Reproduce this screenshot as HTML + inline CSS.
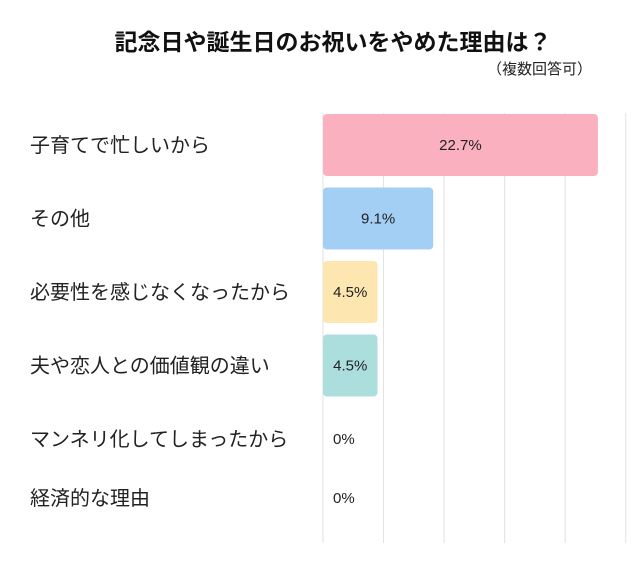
<!DOCTYPE html>
<html><head><meta charset="utf-8"><style>
body{margin:0;background:#fff;}
svg{display:block;font-family:"Liberation Sans","Noto Sans CJK JP",sans-serif;}
</style></head><body>
<svg id="c" width="640" height="581" viewBox="0 0 640 581">
<text x="333" y="50" text-anchor="middle" font-size="23" font-weight="bold" fill="#111">記念日や誕生日のお祝いをやめた理由は？</text>
<text x="592" y="74" text-anchor="end" font-size="15" fill="#222">（複数回答可）</text>
<g id="grid"></g><g id="bars"></g>
</svg>
<script>
const categories=["子育てで忙しいから","その他","必要性を感じなくなったから","夫や恋人との価値観の違い","マンネリ化してしまったから","経済的な理由"];
const values=[22.7,9.1,4.5,4.5,0,0];
const valueLabels=["22.7%","9.1%","4.5%","4.5%","0%","0%"];
const gridTicks=[0,5,10,15,20,25];
const colors=["#fbb0c0","#a3cff5","#fde6b0","#acdedd","#fff","#fff"];
const NS="http://www.w3.org/2000/svg";
const x0=323,pxPer=12.11;
const x=v=>x0+v*pxPer;
const rowCenters=[145,218.5,292,365.5,439,498];
const y=i=>rowCenters[i];
const grid=document.getElementById('grid'),bars=document.getElementById('bars');
gridTicks.forEach(t=>{
 const l=document.createElementNS(NS,'line');
 
 
 l.setAttribute('x1',x(t));l.setAttribute('x2',x(t));l.setAttribute('y1',113);l.setAttribute('y2',543);
 l.setAttribute('stroke','#e2e2e2');l.setAttribute('stroke-width','1');
 grid.appendChild(l);
});
categories.forEach((c,i)=>{
 const t=document.createElementNS(NS,'text');
 
 
 t.setAttribute('x',30);t.setAttribute('y',y(i)+7);t.setAttribute('font-size','20');t.setAttribute('fill','#222');
 t.textContent=c;bars.appendChild(t);
 if(values[i]>0){
  const r=document.createElementNS(NS,'rect');
  
  
  r.setAttribute('x',x(0));r.setAttribute('y',y(i)-31);r.setAttribute('width',x(values[i])-x(0));r.setAttribute('height',62);
  r.setAttribute('rx',4);r.setAttribute('fill',colors[i]);
  bars.appendChild(r);
 }
 const v=document.createElementNS(NS,'text');
 
 
 const w=x(values[i])-x(0);
 if(w>45){v.setAttribute('x',x(0)+w/2);v.setAttribute('text-anchor','middle');}
 else{v.setAttribute('x',x(0)+10);}
 v.setAttribute('y',y(i)+5);v.setAttribute('font-size','15');v.setAttribute('fill','#222');
 v.textContent=valueLabels[i];bars.appendChild(v);
});
</script>
</body></html>
